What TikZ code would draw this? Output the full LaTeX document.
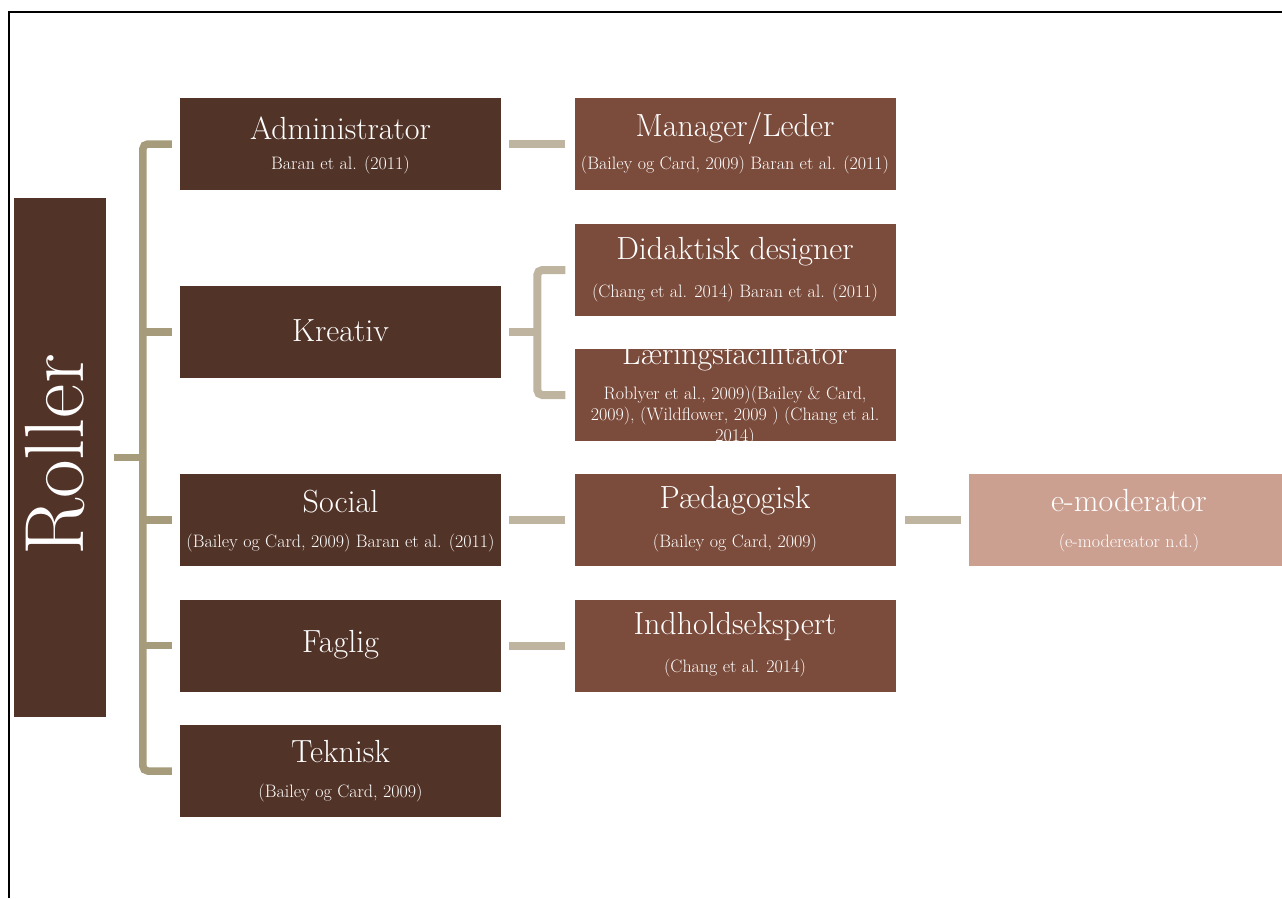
\documentclass[tikz,border=0pt]{standalone}
\usepackage{fontspec}
\usepackage{tikz}
\usepackage{xcolor}
\definecolor{roldark}{HTML}{523328}
\definecolor{rolmid}{HTML}{7B4B3B}
\definecolor{rollight}{HTML}{CCA091}
\definecolor{spinekhaki}{HTML}{A69B7B}
\definecolor{linkgrey}{HTML}{BEB4A0}

\begin{document}
\begin{tikzpicture}[x=1pt, y=-1pt,
  lvlone/.style={fill=roldark, minimum width=321pt, minimum height=92pt, inner sep=0pt},
  lvltwo/.style={fill=rolmid, minimum width=321pt, minimum height=92pt, inner sep=0pt},
  lvlthree/.style={fill=rollight, minimum width=321pt, minimum height=92pt, inner sep=0pt},
  ttl/.style={text=white, inner sep=0pt, font=\fontsize{32}{35}\selectfont},
  sub/.style={text=white, inner sep=0pt, font=\fontsize{18}{21}\selectfont},
  spine/.style={spinekhaki, line width=7.5pt, rounded corners=5pt},
  link/.style={linkgrey, line width=8pt, rounded corners=5pt}]

% Page size taken from the slide (1 pt = 1 px, y grows downward).
\useasboundingbox (0,0) rectangle (1282,898);

% --- Slide frame ---
\draw[black, line width=1.8pt] (9,898) -- (9,12) -- (1282,12);

% --- Roller (rotated title bar) ---
\node[fill=roldark, minimum width=92pt, minimum height=519pt, inner sep=0pt] (rol) at (60,457.5) {};
\node[rotate=90, text=white, inner sep=0pt, font=\fontsize{84}{86}\selectfont] (rolT) at (55,455) {Roller};

% --- Level 1 boxes (dark) ---
\node[lvlone] (adm) at (340.5,144) {};
\node[lvlone] (kre) at (340.5,332) {};
\node[lvlone] (soc) at (340.5,520) {};
\node[lvlone] (fag) at (340.5,645.5) {};
\node[lvlone] (tek) at (340.5,771) {};

% --- Level 2 boxes (medium) ---
\node[lvltwo] (man) at (735,144) {};
\node[lvltwo] (did) at (735,270) {};
\node[lvltwo] (lae) at (735,395) {};
\node[lvltwo] (ped) at (735,520) {};
\node[lvltwo] (ind) at (735,645.5) {};

% --- Level 3 box (light) ---
\node[lvlthree] (emo) at (1129.5,520) {};

% --- Texts, level 1 ---
\node[ttl] (admT) at (340.5,128) {Administrator};
\node[sub] (admS) at (340.5,165) {Baran et al. (2011)};
\node[ttl] (kreT) at (340.5,331) {Kreativ};
\node[ttl] (socT) at (340.5,502) {Social};
\node[sub] (socS) at (340.5,543) {(Bailey og Card, 2009) Baran et al. (2011)};
\node[ttl] (fagT) at (340.5,645) {Faglig};
\node[ttl] (tekT) at (340.5,752) {Teknisk};
\node[sub] (tekS) at (340.5,793) {(Bailey og Card, 2009)};

% --- Texts, level 2 ---
\node[ttl] (manT) at (735,128) {Manager/Leder};
\node[sub] (manS) at (735,165) {(Bailey og Card, 2009) Baran et al. (2011)};
\node[ttl] (didT) at (735,252) {Didaktisk designer};
\node[sub] (didS) at (735,293) {(Chang et al. 2014) Baran et al. (2011)};
\node[ttl] (laeT) at (735,357) {Læringsfacilitator};
\node[sub, align=center] (laeS) at (735,416)
  {Roblyer et al., 2009)(Bailey \& Card,\\2009), (Wildflower, 2009 ) (Chang et al.\\2014)};
\node[ttl] (pedT) at (735,501) {Pædagogisk};
\node[sub] (pedS) at (735,543) {(Bailey og Card, 2009)};
\node[ttl] (indT) at (735,627) {Indholdsekspert};
\node[sub] (indS) at (735,668) {(Chang et al. 2014)};

% --- Texts, level 3 ---
\node[ttl] (emoT) at (1129,501) {e-moderator};
\node[sub] (emoS) at (1129,543) {(e-modereator n.d.)};

% --- Khaki bracket from Roller to level 1 ---
\draw[spine] ([xshift=8pt]rol.east) -- ++(29,0);
\draw[spine] ([xshift=-8pt]adm.west) -| ([xshift=-37pt]tek.west) -- ([xshift=-8pt]tek.west);
\draw[spine] ([xshift=-8pt]kre.west) -- ++(-29,0);
\draw[spine] ([xshift=-8pt]soc.west) -- ++(-29,0);
\draw[spine] ([xshift=-8pt]fag.west) -- ++(-29,0);

% --- Grey links level 1 -> level 2 -> level 3 ---
\draw[link] ([xshift=8pt]adm.east) -- ([xshift=-9pt]man.west);
\draw[link] ([xshift=8pt]kre.east) -- ++(29,0);
\draw[link] ([xshift=-9pt]did.west) -- ++(-28,0) |- ([xshift=-9pt]lae.west);
\draw[link] ([xshift=8pt]soc.east) -- ([xshift=-9pt]ped.west);
\draw[link] ([xshift=8pt]fag.east) -- ([xshift=-9pt]ind.west);
\draw[link] ([xshift=9pt]ped.east) -- ([xshift=-8pt]emo.west);

\end{tikzpicture}
\end{document}
